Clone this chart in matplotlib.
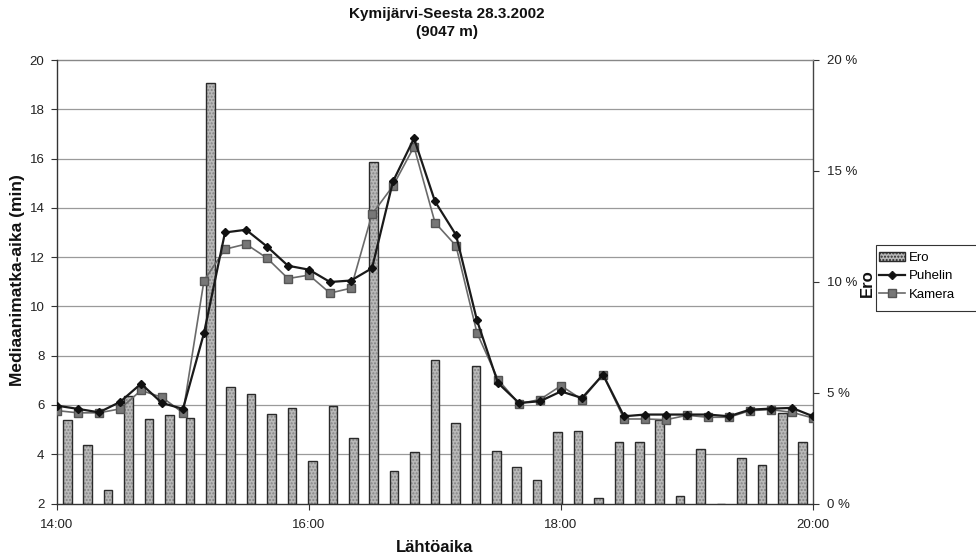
import numpy as np
import matplotlib
matplotlib.use("Agg")
import matplotlib.pyplot as plt
from matplotlib.lines import Line2D
from matplotlib.patches import Patch, Rectangle
import matplotlib.transforms as mtransforms

plt.rcParams['font.family'] = ['Liberation Sans', 'DejaVu Sans']

# ---------------- data ----------------
minutes = np.arange(0, 361, 10)            # 14:00 ... 20:00, every 10 min
tick_minutes = [0, 120, 240, 360]
tick_labels = ['14:00', '16:00', '18:00', '20:00']

puhelin = [5.97, 5.84, 5.70, 6.12, 6.86, 6.08, 5.84, 8.92, 13.00, 13.11,
           12.43, 11.65, 11.49, 10.99, 11.05, 11.55, 15.07, 16.82, 14.26, 12.90,
           9.43, 6.89, 6.08, 6.15, 6.55, 6.28, 7.23, 5.54, 5.61, 5.61,
           5.61, 5.61, 5.54, 5.81, 5.85, 5.88, 5.54]
kamera = [5.77, 5.68, 5.68, 5.84, 6.59, 6.31, 5.68, 11.05, 12.32, 12.53,
          11.96, 11.13, 11.27, 10.54, 10.74, 13.74, 14.89, 16.48, 13.40, 12.46,
          8.92, 7.03, 6.05, 6.22, 6.78, 6.22, 7.23, 5.43, 5.43, 5.40,
          5.58, 5.50, 5.50, 5.77, 5.81, 5.70, 5.47]
ero = [3.75, 2.66, 0.60, 4.83, 3.81, 3.98, 3.86, 18.95, 5.26, 4.94,
       4.04, 4.31, 1.91, 4.41, 2.96, 15.42, 1.46, 2.33, 6.46, 3.63,
       6.19, 2.36, 1.65, 1.08, 3.21, 3.29, 0.26, 2.76, 2.76, 3.75,
       0.33, 2.46, 0.0, 2.06, 1.73, 4.10, 2.76]

left_ticks = [2, 4, 6, 8, 10, 12, 14, 16, 18, 20]
right_ticks = [0, 5, 10, 15, 20]
right_labels = ['0 %', '5 %', '10 %', '15 %', '20 %']

# ---------------- figure ----------------
W, H = 976, 558
fig = plt.figure(figsize=(W / 100, H / 100), dpi=100)
fig.patch.set_facecolor('white')

x0, x1 = 57 / W, 813 / W
y0, y1 = 1 - 503.5 / H, 1 - 60 / H
rect = [x0, y0, x1 - x0, y1 - y0]

ax_bar = fig.add_axes(rect)
ax = fig.add_axes(rect)
ax.set_zorder(ax_bar.get_zorder() + 1)
ax.patch.set_visible(False)

# --- bar axis (secondary category axis, percent scale) ---
ncat = len(ero)
ax_bar.set_xlim(0, ncat)
ax_bar.set_ylim(0, 20)
xb = np.arange(ncat) + 0.5

ax.set_ylim(2, 20)
ax.set_xlim(0, 360)

# gridlines (in left-axis units) behind bars
blend = mtransforms.blended_transform_factory(ax_bar.transAxes, ax.transData)
for v in left_ticks[1:-1]:
    ax_bar.plot([0, 1], [v, v], transform=blend, color='#9a9a9a', lw=0.9, zorder=0)

ax_bar.bar(xb, ero, width=0.42, color='#b9b9b9', edgecolor='#858585',
           linewidth=0, hatch='.....', zorder=2)
ax_bar.bar(xb, ero, width=0.42, facecolor='none', edgecolor='#2a2a2a',
           linewidth=1.0, zorder=3)

ax_bar.yaxis.tick_right()
ax_bar.set_yticks(right_ticks)
ax_bar.set_yticklabels(right_labels)
ax_bar.set_xticks([])
ax_bar.tick_params(axis='y', direction='out', length=4, width=0.8,
                   labelsize=9.5, colors='#333333', labelcolor='#222222', pad=6)
for s in ['left', 'bottom']:
    ax_bar.spines[s].set_visible(False)
ax_bar.spines['right'].set_color('#444444')
ax_bar.spines['right'].set_linewidth(1.0)
ax_bar.spines['top'].set_color('#888888')
ax_bar.spines['top'].set_linestyle((0, (1, 1)))
ax_bar.spines['top'].set_linewidth(1.0)

# --- line axis ---
ax.plot(minutes, kamera, color='#6a6a6a', lw=1.2, marker='s', markersize=5.5,
        markerfacecolor='#777777', markeredgecolor='#555555', zorder=3)
ax.plot(minutes, puhelin, color='#1a1a1a', lw=1.6, marker='D', markersize=4.5,
        markerfacecolor='#111111', markeredgecolor='#111111', zorder=4)

ax.set_xticks(tick_minutes)
ax.set_xticklabels(tick_labels)
ax.set_yticks(left_ticks)
ax.tick_params(axis='both', direction='out', length=4, width=0.8,
               labelsize=9.5, colors='#333333', labelcolor='#222222')
ax.tick_params(axis='y', pad=5)
ax.tick_params(axis='x', pad=7)
for s in ['top', 'right']:
    ax.spines[s].set_visible(False)
ax.spines['left'].set_color('#333333')
ax.spines['bottom'].set_color('#333333')
ax.spines['left'].set_linewidth(1.0)
ax.spines['bottom'].set_linewidth(1.0)

# --- texts ---
fig.text(447 / W, 1 - 23 / H, 'Kymijärvi-Seesta 28.3.2002\n(9047 m)',
         ha='center', va='center', fontsize=11, fontweight='bold',
         color='#111111', linespacing=1.3)
fig.text(18 / W, 1 - 280 / H, 'Mediaanimatka-aika (min)', rotation=90,
         ha='center', va='center', fontsize=12.5, fontweight='bold', color='#111111')
fig.text(867 / W, 1 - 283 / H, 'Ero', rotation=90,
         ha='center', va='center', fontsize=12, fontweight='bold', color='#111111')
fig.text(435 / W, 1 - 547 / H, 'Lähtöaika',
         ha='center', va='center', fontsize=12, fontweight='bold', color='#111111')

# --- legend ---
handles = [
    Patch(facecolor='#b9b9b9', edgecolor='#2a2a2a', hatch='.....', linewidth=1.0),
    Line2D([], [], color='#1a1a1a', lw=1.6, marker='D', markersize=4.5,
           markerfacecolor='#111111'),
    Line2D([], [], color='#6a6a6a', lw=1.2, marker='s', markersize=5.5,
           markerfacecolor='#777777', markeredgecolor='#555555'),
]
leg = fig.legend(handles, ['Ero', 'Puhelin', 'Kamera'],
                 loc='upper left', bbox_to_anchor=(879 / W, 1 - 252 / H),
                 fontsize=9.5, frameon=False, handlelength=2.0,
                 handletextpad=0.25, borderpad=0.0, labelspacing=0.45,
                 borderaxespad=0)
fig.add_artist(Rectangle((876 / W, 1 - 311 / H), 110 / W, 66 / H,
                         transform=fig.transFigure, fill=False,
                         edgecolor='#333333', linewidth=0.8))

fig.savefig('out.png', dpi=100)
